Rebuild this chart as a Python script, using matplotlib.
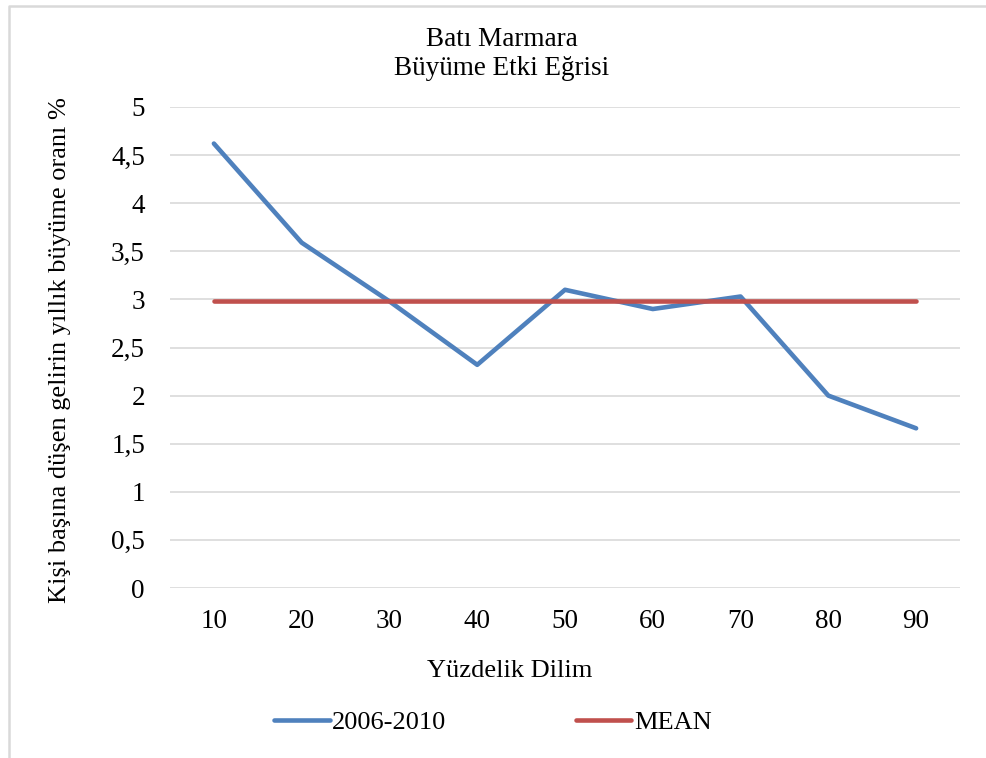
import matplotlib.pyplot as plt
from matplotlib.lines import Line2D

plt.rcParams['font.family'] = ['Liberation Serif', 'DejaVu Serif']

percentiles = ['10', '20', '30', '40', '50', '60', '70', '80', '90']
growth_2006_2010 = [4.62, 3.59, 2.98, 2.32, 3.10, 2.90, 3.03, 2.00, 1.66]
mean_value = [2.98] * len(percentiles)
y_ticks = [0, 0.5, 1, 1.5, 2, 2.5, 3, 3.5, 4, 4.5, 5]
y_tick_labels = ['0', '0,5', '1', '1,5', '2', '2,5', '3', '3,5', '4', '4,5', '5']

fig = plt.figure(figsize=(9.86, 7.58), dpi=100)
ax = fig.add_axes([170 / 986, 1 - 588 / 758, 790 / 986, 481 / 758])

x = range(len(percentiles))
ax.plot(x, growth_2006_2010, color='#4F81BD', lw=3.3, solid_capstyle='round', label='2006-2010', zorder=3)
ax.plot(x, mean_value, color='#C0504D', lw=3.3, solid_capstyle='round', label='MEAN', zorder=3)

ax.set_xlim(-0.5, len(percentiles) - 0.5)
ax.set_ylim(0, 5)
ax.set_xticks(list(x))
ax.set_xticklabels(percentiles)
ax.set_yticks(y_ticks)
ax.set_yticklabels(y_tick_labels)
ax.tick_params(axis='both', length=0, labelsize=19.5)
ax.tick_params(axis='x', pad=15)
ax.tick_params(axis='y', pad=18)
ax.grid(axis='y', color='#D9D9D9', lw=1.2)
ax.set_axisbelow(True)
for s in ax.spines.values():
    s.set_visible(False)

fig.text(60 / 986, 1 - 350 / 758, 'Kişi başına düşen gelirin yıllık büyüme oranı %', rotation=90,
         ha='center', va='center', fontsize=19)
fig.text(510 / 986, 1 - 671 / 758, 'Yüzdelik Dilim', ha='center', va='center', fontsize=19)
fig.text(502 / 986, 1 - 54 / 758, 'Batı Marmara\nBüyüme Etki Eğrisi', ha='center', va='center',
         fontsize=19.5, linespacing=1.2)

fig.legend(loc='center', bbox_to_anchor=(493 / 986, 1 - 722 / 758), ncol=2, frameon=False,
           fontsize=19, handlelength=2.1, handletextpad=0.1, columnspacing=4.9)

# light frame only on the left and top edges, as in the source image
fig.lines.append(Line2D([9 / 986, 9 / 986, 1.0], [0.0, 1 - 6 / 758, 1 - 6 / 758],
                        transform=fig.transFigure, color='#D9D9D9', lw=1.8))

fig.savefig('out.png', dpi=100)
